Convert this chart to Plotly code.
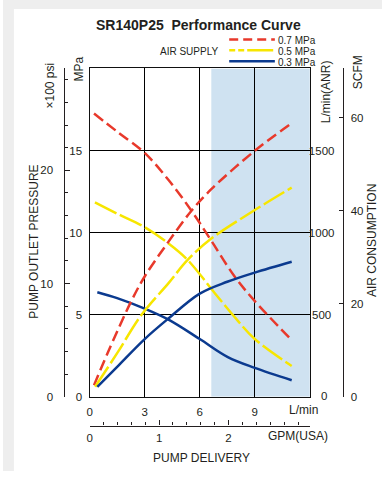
import plotly.graph_objects as go

# ---- data -------------------------------------------------------------
# Pump outlet pressure (MPa) vs. delivery (L/min) for each air supply
flow_p07 = [0.24, 1.5, 3.0, 4.3, 5.55, 6.63, 7.9, 9.0, 10.87]
pres_p07 = [17.25, 16.15, 14.85, 13.2, 11.33, 9.5, 7.32, 5.82, 3.61]
flow_p05 = [0.29, 1.5, 3.0, 4.3, 5.34, 6.81, 8.0, 9.0, 11.01]
pres_p05 = [11.84, 11.15, 10.33, 9.33, 8.33, 6.32, 4.72, 3.51, 1.87]
flow_p03 = [0.42, 1.5, 3.0, 4.25, 6.0, 7.53, 9.0, 11.01]
pres_p03 = [6.36, 6.0, 5.36, 4.72, 3.51, 2.41, 1.75, 1.0]

# Air consumption (L/min ANR) vs. delivery (L/min)
flow_a07 = [0.24, 1.0, 2.27, 3.0, 4.29, 5.55, 6.63, 9.0, 10.87]
air_a07 = [70, 270, 582, 732, 943, 1133, 1264, 1498, 1655]
flow_a05 = [0.3, 1.5, 2.85, 4.3, 5.34, 6.63, 9.0, 11.01]
air_a05 = [60, 265, 502, 692, 833, 963, 1137, 1274]
flow_a03 = [0.42, 1.5, 3.0, 4.25, 6.0, 7.5, 9.0, 11.01]
air_a03 = [60, 182, 351, 472, 628, 700, 756, 822]

supply_labels = ["0.7 MPa", "0.5 MPa", "0.3 MPa"]
flow_ticks = [0, 3, 6, 9]
mpa_ticks = [0, 5, 10, 15]
psi_ticks = [0, 10, 20]
anr_ticks = [500, 1000, 1500]
anr_ticktext = ["\u00a0500", "1000", "1500"]
scfm_ticks = [0, 20, 40, 60]
gpm_ticks = [0, 1, 2]
shade_start = 6.63

# unit conversions for the secondary scales
PSI_PER_MPA = 145.038
LPM_PER_SCFM = 28.3168
LPM_PER_GPM = 3.78541

# ---- styling ----------------------------------------------------------
W, H = 382, 477
RED, YEL, BLU = "#e8392b", "#f7e600", "#0b3a8f"
SHADE = "#cfe2f1"
INK = "#231f20"
FONT = "Liberation Sans, Arial, sans-serif"
colors = [RED, YEL, BLU]
dashes = ["11px,5px", "24px,4px", "solid"]

PL, PR, PT, PB = 87.3, 309.3, 69.3, 401.7  # plot box in pixels


def fx(px):
    return px / W


def fy(py):
    return 1 - py / H


fig = go.Figure()

pres_sets = [(flow_p07, pres_p07), (flow_p05, pres_p05), (flow_p03, pres_p03)]
air_sets = [(flow_a07, air_a07), (flow_a05, air_a05), (flow_a03, air_a03)]

for (xs, ys), c, d in zip(pres_sets, colors, dashes):
    fig.add_trace(go.Scatter(x=xs, y=ys, mode="lines", yaxis="y",
                             line=dict(color=c, width=2.5, dash=d, shape="spline", smoothing=1.0),
                             showlegend=False, hoverinfo="skip"))
for (xs, ys), c, d in zip(air_sets, colors, dashes):
    fig.add_trace(go.Scatter(x=xs, y=ys, mode="lines", yaxis="y3",
                             line=dict(color=c, width=2.5, dash=d, shape="spline", smoothing=1.0),
                             showlegend=False, hoverinfo="skip"))

# empty carriers so the secondary unit scales get drawn
fig.add_trace(go.Scatter(x=[None], y=[None], yaxis="y2", showlegend=False, hoverinfo="skip"))
fig.add_trace(go.Scatter(x=[None], y=[None], yaxis="y4", showlegend=False, hoverinfo="skip"))
fig.add_trace(go.Scatter(x=[None], y=[None], xaxis="x2", yaxis="y", showlegend=False, hoverinfo="skip"))

tickfont = dict(family=FONT, size=11.5, color=INK)

fig.update_layout(
    width=W, height=H,
    margin=dict(l=0, r=0, t=0, b=0),
    paper_bgcolor="white",
    plot_bgcolor="rgba(0,0,0,0)",
    font=dict(family=FONT, color=INK),
    xaxis=dict(domain=[fx(PL), fx(PR)], range=[0, 12], tickvals=flow_ticks,
               ticks="", showgrid=True, gridcolor="#000", gridwidth=1.2,
               showline=True, mirror=True, linecolor="#111", linewidth=1.3,
               zeroline=False, tickfont=tickfont, ticklabelstandoff=4),
    yaxis=dict(domain=[fy(PB), fy(PT)], range=[0, 20], tickvals=mpa_ticks,
               ticks="", showgrid=True, gridcolor="#000", gridwidth=1.2,
               showline=True, mirror=True, linecolor="#111", linewidth=1.3,
               zeroline=False, tickfont=tickfont, ticklabelstandoff=4),
    yaxis2=dict(overlaying="y", anchor="free", position=fx(61), side="left",
                range=[0, 20 * PSI_PER_MPA / 100], tickvals=psi_ticks,
                ticks="inside", ticklen=5, tickcolor=INK,
                minor=dict(dtick=2, tick0=0, ticks="inside", ticklen=3, tickcolor=INK),
                showline=True, linecolor=INK, linewidth=1.2, showgrid=False,
                zeroline=False, tickfont=tickfont, ticklabelstandoff=8),
    yaxis3=dict(overlaying="y", anchor="x", side="right", range=[0, 2000],
                tickvals=anr_ticks, ticktext=anr_ticktext, ticks="", showgrid=False,
                zeroline=False, tickfont=tickfont, ticklabelstandoff=-2),
    yaxis4=dict(overlaying="y", anchor="free", position=fx(343), side="right",
                range=[0, 2000 / LPM_PER_SCFM], tickvals=scfm_ticks,
                ticks="inside", ticklen=4, tickcolor=INK,
                showline=True, linecolor=INK, linewidth=1.2, showgrid=False,
                zeroline=False, tickfont=tickfont, ticklabelstandoff=4),
    xaxis2=dict(overlaying="x", anchor="free", position=fy(431), side="bottom",
                range=[0, 12 / LPM_PER_GPM], tickvals=gpm_ticks,
                ticks="inside", ticklen=5, tickcolor=INK,
                minor=dict(dtick=0.2, tick0=0, ticks="inside", ticklen=3, tickcolor=INK),
                showline=True, linecolor=INK, linewidth=1.2, showgrid=False,
                zeroline=False, tickfont=tickfont, ticklabelstandoff=2),
)

shapes = [
    # page frame
    dict(type="rect", xref="paper", yref="paper", x0=0, x1=fx(11), y0=0, y1=1,
         fillcolor="#eeeeee", line=dict(width=0), layer="below"),
    dict(type="rect", xref="paper", yref="paper", x0=0, x1=1, y0=fy(9), y1=1,
         fillcolor="#eeeeee", line=dict(width=0), layer="below"),
    # recommended operating range
    dict(type="rect", xref="x", yref="y", x0=shade_start, x1=12, y0=0, y1=20,
         fillcolor=SHADE, line=dict(width=0), layer="below"),
]

# legend keys
leg_y = [40, 51, 62]
for yy, c, d in zip(leg_y, colors, ["9px,5px", "6px,3px,6px,3px,26px", "solid"]):
    shapes.append(dict(type="line", xref="paper", yref="paper",
                       x0=fx(228), x1=fx(274), y0=fy(yy), y1=fy(yy),
                       line=dict(color=c, width=2.5, dash=d)))
fig.update_layout(shapes=shapes)

ann = []


def text(px, py, s, size=12, angle=0, xanchor="center", bold=False):
    ann.append(dict(x=fx(px), y=fy(py), xref="paper", yref="paper", text=f"<b>{s}</b>" if bold else s,
                    showarrow=False, textangle=angle, xanchor=xanchor, yanchor="middle",
                    font=dict(family=FONT, size=size, color=INK)))


text(197, 25, "SR140P25  Performance Curve", size=14, bold=True)
for yy, s in zip(leg_y, supply_labels):
    text(275, yy + 1, s, size=10, xanchor="left")
text(219, 52, "AIR SUPPLY", size=10, xanchor="right")
text(47, 87, "×100 psi", size=12, angle=-90)
text(77, 70, "MPa", size=12, angle=-90)
text(325, 93, "L/min(ANR)", size=12, angle=-90)
text(358, 73, "SCFM", size=12, angle=-90)
text(31, 245, "PUMP OUTLET PRESSURE", size=12, angle=-90)
text(372, 244, "AIR CONSUMPTION", size=12, angle=-90)
text(200, 464, "PUMP DELIVERY", size=12)
text(303, 415, "L/min", size=12)
text(297, 442, "GPM(USA)", size=12)
text(324, 401, "0", size=11.5)  # zero of the L/min(ANR) scale
fig.update_layout(annotations=ann)

fig.write_html("out.html")
